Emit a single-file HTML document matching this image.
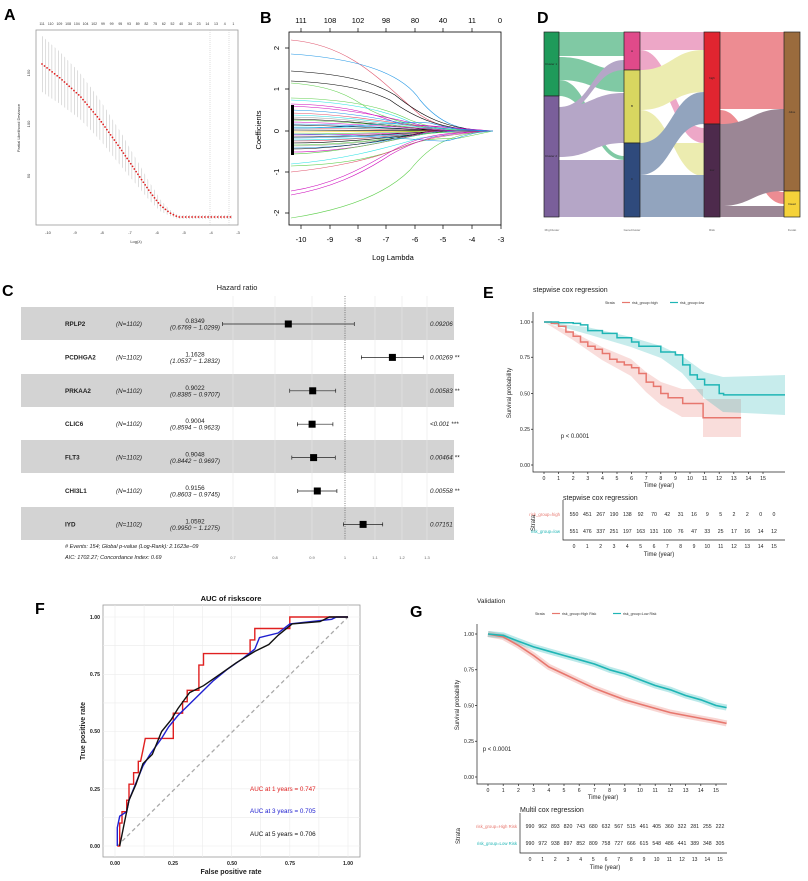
<!DOCTYPE html>
<html><head><meta charset="utf-8"><style>
html,body{margin:0;padding:0;background:#fff;}
svg{display:block;font-family:"Liberation Sans",sans-serif;}
</style></head><body>
<svg width="808" height="881" viewBox="0 0 808 881" xmlns="http://www.w3.org/2000/svg">
<defs>
<pattern id="vl" x="42" y="0" width="3.2" height="10" patternUnits="userSpaceOnUse"><line x1="0.3" y1="0" x2="0.3" y2="10" stroke="#bbb" stroke-width="0.5"/></pattern>
</defs>
<rect width="808" height="881" fill="#fff"/>
<g font-weight="bold" font-size="16" fill="#000">
<text x="4" y="20">A</text><text x="260" y="23">B</text><text x="537" y="23">D</text>
<text x="2" y="296">C</text><text x="483" y="298">E</text><text x="35" y="614">F</text><text x="410" y="617">G</text>
</g>

<!-- Panel A -->
<rect x="36" y="30" width="202" height="195" fill="none" stroke="#999" stroke-width="0.8"/>
<g font-size="3.5" fill="#333" text-anchor="middle">
<text x="42" y="25">111</text><text x="50.7" y="25">110</text><text x="59.4" y="25">109</text><text x="68.1" y="25">108</text><text x="76.8" y="25">104</text><text x="85.5" y="25">104</text><text x="94.2" y="25">102</text><text x="102.9" y="25">99</text><text x="111.6" y="25">99</text><text x="120.3" y="25">95</text><text x="129" y="25">93</text><text x="137.7" y="25">89</text><text x="146.4" y="25">82</text><text x="155.1" y="25">75</text><text x="163.8" y="25">62</text><text x="172.5" y="25">52</text><text x="181.2" y="25">40</text><text x="189.9" y="25">34</text><text x="198.6" y="25">23</text><text x="207.3" y="25">14</text><text x="216" y="25">13</text><text x="224.7" y="25">4</text><text x="233.4" y="25">1</text>
</g>
<path d="M42,36 L60,52 L80,73 L100,100 L120,131 L135,157 L150,183 L160,199 L170,210 L178,215 L232,215 L232,219 L178,219 L170,216 L160,211 L150,201 L135,183 L120,165 L100,140 L80,119 L60,104 L42,92Z" fill="url(#vl)"/>
<path d="M42,64 L60,78 L80,96 L100,120 L120,148 L135,170 L150,192 L160,205 L170,213 L178,217 L232,217" fill="none" stroke="#e02020" stroke-width="1.8" stroke-linecap="round" stroke-dasharray="0,3.2"/>
<line x1="210" y1="30" x2="210" y2="225" stroke="#bbb" stroke-width="0.5" stroke-dasharray="1,1"/>
<line x1="229" y1="30" x2="229" y2="225" stroke="#bbb" stroke-width="0.5" stroke-dasharray="1,1"/>
<g font-size="4" fill="#333" text-anchor="middle">
<text x="48" y="234">-10</text><text x="75" y="234">-9</text><text x="102" y="234">-8</text><text x="130" y="234">-7</text><text x="157" y="234">-6</text><text x="184" y="234">-5</text><text x="211" y="234">-4</text><text x="238" y="234">-3</text>
<text x="136" y="243">Log(λ)</text>
<text transform="translate(30,73) rotate(-90)">150</text>
<text transform="translate(30,124) rotate(-90)">100</text>
<text transform="translate(30,176) rotate(-90)">50</text>
<text transform="translate(20,128) rotate(-90)">Partial Likelihood Deviance</text>
</g>

<!-- Panel B -->
<g fill="none" stroke-width="0.6">
<path d="M291,40 C350,45 380,80 420,115 C440,128 460,131 493,131" stroke="#DF536B"/>
<path d="M291,54 C350,58 400,70 420,100 C440,124 460,131 493,131" stroke="#2297E6"/>
<path d="M291,71 C340,74 370,80 395,95 C420,115 445,130 493,131" stroke="#000"/>
<path d="M291,81 C340,83 370,90 390,100 C415,118 440,130 493,131" stroke="#000"/>
<path d="M291,83 C330,86 350,95 370,110 C400,125 430,130 493,131" stroke="#61D04F"/>
<path d="M291,98 C340,99 380,105 410,120 C430,128 450,131 493,131" stroke="#61D04F"/>
<path d="M291,100 C340,102 380,108 410,122 C430,129 450,131 493,131" stroke="#28E2E5"/>
<path d="M291,104 C340,105 370,112 400,124 L493,131" stroke="#CD0BBC"/>
<path d="M291,106 C340,108 380,115 420,125 L493,131" stroke="#CD0BBC"/>
<path d="M291,110 C340,111 380,118 420,127 L493,131" stroke="#2297E6"/>
<path d="M291,113 C350,114 400,124 450,131 L493,131" stroke="#DF536B"/>
<path d="M291,115 C350,116 400,125 450,131 L493,131" stroke="#28E2E5"/>
<path d="M291,117 C350,118 400,126 440,131 L493,131" stroke="#9E9E9E"/>
<path d="M291,119 C350,120 400,127 440,131 L493,131" stroke="#000"/>
<path d="M291,120 C350,121 410,128 460,131 L493,131" stroke="#61D04F"/>
<path d="M291,122 C350,123 410,128 460,131 L493,131" stroke="#CD0BBC"/>
<path d="M291,124 C350,124 400,129 440,131 L493,131" stroke="#2297E6"/>
<path d="M291,125 C350,126 410,129 450,131 L493,131" stroke="#000"/>
<path d="M291,127 C350,127 400,130 440,131 L493,131" stroke="#28E2E5"/>
<path d="M291,128 C350,128 410,130 450,131 L493,131" stroke="#DF536B"/>
<path d="M291,130 L493,131" stroke="#000"/>
<path d="M291,132 C350,132 400,131 440,131 L493,131" stroke="#F5C710"/>
<path d="M291,134 C350,134 400,132 440,131 L493,131" stroke="#61D04F"/>
<path d="M291,135 C350,135 410,133 450,131 L493,131" stroke="#CD0BBC"/>
<path d="M291,137 C350,137 400,134 440,131 L493,131" stroke="#000"/>
<path d="M291,138 C350,138 410,134 460,131 L493,131" stroke="#2297E6"/>
<path d="M291,140 C350,140 410,135 460,131 L493,131" stroke="#28E2E5"/>
<path d="M291,141 C350,141 400,135 440,131 L493,131" stroke="#DF536B"/>
<path d="M291,143 C350,143 400,136 450,131 L493,131" stroke="#000"/>
<path d="M291,145 C350,145 400,137 450,131 L493,131" stroke="#61D04F"/>
<path d="M291,146 C350,146 400,138 440,131 L493,131" stroke="#9E9E9E"/>
<path d="M291,148 C350,148 400,139 440,131 L493,131" stroke="#2297E6"/>
<path d="M291,149 C340,149 390,140 430,131 L493,131" stroke="#000"/>
<path d="M291,152 C340,152 390,142 430,131 L493,131" stroke="#CD0BBC"/>
<path d="M291,154 C340,153 390,140 430,133 L493,131" stroke="#61D04F"/>
<path d="M291,164 C340,160 380,150 420,138 L493,131" stroke="#28E2E5"/>
<path d="M291,166 C330,165 370,160 400,148 C430,135 450,140 460,138 L493,131" stroke="#61D04F"/>
<path d="M291,172 C330,168 370,160 400,148 C420,140 440,135 493,131" stroke="#DF536B"/>
<path d="M291,191 C330,185 360,170 390,152 C420,135 440,133 493,131" stroke="#CD0BBC"/>
<path d="M291,195 C330,188 360,175 390,155 C420,138 440,133 493,131" stroke="#CD0BBC"/>
<path d="M291,218 C330,212 380,200 410,170 C430,145 450,133 493,131" stroke="#61D04F"/>
<path d="M291,128 C350,129 400,120 430,123 C450,128 460,131 493,131" stroke="#2297E6"/>
<path d="M291,134 C350,134 420,140 440,141 C455,142 465,132 493,131" stroke="#2297E6"/>
</g>
<rect x="291" y="105" width="3" height="50" fill="#000"/>
<rect x="289" y="32" width="212" height="193" fill="none" stroke="#000" stroke-width="0.8"/>
<g stroke="#000" stroke-width="0.7">
<path d="M301,225v4M330,225v4M358,225v4M386,225v4M415,225v4M443,225v4M472,225v4M501,225v4M301,32v-4M330,32v-4M358,32v-4M386,32v-4M415,32v-4M443,32v-4M472,32v-4M289,48h-4M289,89h-4M289,131h-4M289,172h-4M289,213h-4"/>
</g>
<g font-size="7.5" fill="#000" text-anchor="middle">
<text x="301" y="23">111</text><text x="330" y="23">108</text><text x="358" y="23">102</text><text x="386" y="23">98</text><text x="415" y="23">80</text><text x="443" y="23">40</text><text x="472" y="23">11</text><text x="500" y="23">0</text>
<text x="301" y="242">-10</text><text x="330" y="242">-9</text><text x="358" y="242">-8</text><text x="386" y="242">-7</text><text x="415" y="242">-6</text><text x="443" y="242">-5</text><text x="472" y="242">-4</text><text x="501" y="242">-3</text>
<text x="393" y="260">Log Lambda</text>
<text transform="translate(279,48) rotate(-90)">2</text>
<text transform="translate(279,89) rotate(-90)">1</text>
<text transform="translate(279,131) rotate(-90)">0</text>
<text transform="translate(279,172) rotate(-90)">-1</text>
<text transform="translate(279,213) rotate(-90)">-2</text>
<text transform="translate(261,130) rotate(-90)">Coefficients</text>
</g>

<!-- Panel D -->
<g opacity="0.55">
<path d="M559,32 L624,32 L624,56 L559,56Z" fill="#1a9e5a"/>
<path d="M559,57 C592,57 592,70 624,70 L624,92 C592,92 592,80 559,80Z" fill="#1a9e5a"/>
<path d="M559,80 C592,80 592,156 624,156 L624,160 C592,160 592,96 559,96 L559,80Z" fill="#1a9e5a"/>
<path d="M559,107 C592,107 592,60 624,60 L624,70 C592,70 592,113 559,113Z" fill="#7a5f9a"/>
<path d="M559,96 L559,107 C592,107 592,93 624,93 L624,143 C592,143 592,157 559,157Z" fill="#7a5f9a"/>
<path d="M559,160 L624,160 L624,217 L559,217Z" fill="#7a5f9a"/>
<path d="M640,32 L704,32 L704,50 L640,50Z" fill="#e0609a"/>
<path d="M640,50 C672,50 672,128 704,128 L704,143 C672,143 672,70 640,70Z" fill="#e0609a"/>
<path d="M640,70 C672,70 672,50 704,50 L704,92 C672,92 672,110 640,110Z" fill="#dede70"/>
<path d="M640,110 C672,110 672,176 704,176 L704,143 C672,143 672,143 640,143Z" fill="#dede70"/>
<path d="M640,143 C672,143 672,92 704,92 L704,124 C672,124 672,175 640,175Z" fill="#3a5a8a"/>
<path d="M640,175 L704,175 L704,217 L640,217Z" fill="#3a5a8a"/>
<path d="M720,32 L784,32 L784,109 L720,109Z" fill="#e0303a"/>
<path d="M720,110 C752,110 752,192 784,192 L784,204 C752,204 752,124 720,124Z" fill="#e0303a"/>
<path d="M720,124 C752,124 752,109 784,109 L784,191 C752,191 752,206 720,206Z" fill="#4a2540"/>
<path d="M720,206 L784,206 L784,217 L720,217Z" fill="#4a2540"/>
</g>
<g stroke="#222" stroke-width="0.7">
<rect x="544" y="32" width="15" height="64" fill="#1f9a5a"/><rect x="544" y="96" width="15" height="121" fill="#7a5f9a"/>
<rect x="624" y="32" width="16" height="38" fill="#e04a8a"/><rect x="624" y="70" width="16" height="73" fill="#d8d660"/><rect x="624" y="143" width="16" height="74" fill="#2f4a7c"/>
<rect x="704" y="32" width="16" height="92" fill="#e02530"/><rect x="704" y="124" width="16" height="93" fill="#4d2a4c"/>
<rect x="784" y="32" width="16" height="159" fill="#9a6b3d"/><rect x="784" y="191" width="16" height="26" fill="#f5d23a"/>
</g>
<g font-size="3" fill="#222" text-anchor="middle">
<text x="551" y="65">Cluster 1</text><text x="551" y="157">Cluster 2</text>
<text x="632" y="52">A</text><text x="632" y="107">B</text><text x="632" y="180">C</text>
<text x="712" y="79">high</text><text x="712" y="171">low</text>
<text x="792" y="113">Alive</text><text x="792" y="205">Dead</text>
<text x="552" y="231" fill="#666">MrgCluster</text><text x="632" y="231" fill="#666">GeneCluster</text><text x="712" y="231" fill="#666">Risk</text><text x="792" y="231" fill="#666">Fustat</text>
</g>

<!-- Panel C -->
<text x="237" y="290" font-size="7.5" text-anchor="middle" fill="#222">Hazard ratio</text>
<g fill="#d3d3d3">
<rect x="21" y="307" width="433" height="33"/><rect x="21" y="374" width="433" height="33"/><rect x="21" y="440" width="433" height="33"/><rect x="21" y="507" width="433" height="33"/>
</g>
<g stroke="#e6e6e6" stroke-width="0.6">
<path d="M233,296V540M275,296V540M312,296V540M375,296V540M402,296V540M427,296V540"/>
</g>
<line x1="345" y1="296" x2="345" y2="540" stroke="#333" stroke-width="0.6" stroke-dasharray="1,1.3"/>
<g font-size="6.3" fill="#222">
<g font-weight="bold"><text x="65" y="326">RPLP2</text><text x="65" y="359.4">PCDHGA2</text><text x="65" y="392.8">PRKAA2</text><text x="65" y="426.2">CLIC6</text><text x="65" y="459.6">FLT3</text><text x="65" y="493">CHI3L1</text><text x="65" y="526.4">IYD</text></g>
<g font-style="italic"><text x="116" y="326">(N=1102)</text><text x="116" y="359.4">(N=1102)</text><text x="116" y="392.8">(N=1102)</text><text x="116" y="426.2">(N=1102)</text><text x="116" y="459.6">(N=1102)</text><text x="116" y="493">(N=1102)</text><text x="116" y="526.4">(N=1102)</text></g>
<g text-anchor="middle">
<text x="195" y="323">0.8349</text><text x="195" y="329.5" font-style="italic">(0.6769 − 1.0299)</text>
<text x="195" y="356.4">1.1628</text><text x="195" y="362.9" font-style="italic">(1.0537 − 1.2832)</text>
<text x="195" y="389.8">0.9022</text><text x="195" y="396.3" font-style="italic">(0.8385 − 0.9707)</text>
<text x="195" y="423.2">0.9004</text><text x="195" y="429.7" font-style="italic">(0.8594 − 0.9623)</text>
<text x="195" y="456.6">0.9048</text><text x="195" y="463.1" font-style="italic">(0.8442 − 0.9697)</text>
<text x="195" y="490">0.9156</text><text x="195" y="496.5" font-style="italic">(0.8603 − 0.9745)</text>
<text x="195" y="523.4">1.0592</text><text x="195" y="529.9" font-style="italic">(0.9950 − 1.1275)</text>
</g>
<g font-style="italic"><text x="430" y="326">0.09206</text><text x="430" y="359.4">0.00269 **</text><text x="430" y="392.8">0.00583 **</text><text x="430" y="426.2">&lt;0.001 ***</text><text x="430" y="459.6">0.00464 **</text><text x="430" y="493">0.00558 **</text><text x="430" y="526.4">0.07151</text></g>
</g>
<g stroke="#222" stroke-width="0.7" fill="none">
<path d="M222.5,324H354.3M222.5,322v4M354.3,322v4"/>
<path d="M361.4,357.4H423.3M361.4,355.4v4M423.3,355.4v4"/>
<path d="M289.7,390.8H335.7M289.7,388.8v4M335.7,388.8v4"/>
<path d="M297.4,424.2H332.9M297.4,422.2v4M332.9,422.2v4"/>
<path d="M291.8,457.6H335.3M291.8,455.6v4M335.3,455.6v4"/>
<path d="M297.7,491H336.9M297.7,489v4M336.9,489v4"/>
<path d="M343.4,524.4H382.7M343.4,522.4v4M382.7,522.4v4"/>
</g>
<g fill="#000">
<rect x="284.8" y="320.5" width="7" height="7"/><rect x="388.9" y="353.9" width="7" height="7"/><rect x="309.2" y="387.3" width="7" height="7"/><rect x="308.6" y="420.7" width="7" height="7"/><rect x="310.1" y="454.1" width="7" height="7"/><rect x="313.8" y="487.5" width="7" height="7"/><rect x="359.6" y="520.9" width="7" height="7"/>
</g>
<g font-size="5.5" font-style="italic" fill="#222">
<text x="65" y="548"># Events: 154; Global p-value (Log-Rank): 2.1623e−09</text>
<text x="65" y="559">AIC: 1702.27; Concordance Index: 0.69</text>
</g>
<g font-size="4" fill="#666" text-anchor="middle">
<text x="233" y="559">0.7</text><text x="275" y="559">0.8</text><text x="312" y="559">0.9</text><text x="345" y="559">1</text><text x="375" y="559">1.1</text><text x="402" y="559">1.2</text><text x="427" y="559">1.3</text>
</g>

<!-- Panel E -->
<text x="533" y="292" font-size="7" fill="#222">stepwise cox regression</text>
<g font-size="3.6" fill="#333">
<text x="605" y="304">Strata</text>
<line x1="622" y1="302.5" x2="630" y2="302.5" stroke="#E7776E" stroke-width="1.2"/><text x="632" y="304">risk_group=high</text>
<line x1="670" y1="302.5" x2="678" y2="302.5" stroke="#1FB5B5" stroke-width="1.2"/><text x="680" y="304">risk_group=low</text>
</g>
<path d="M544,322 L573,332 L602,347 L631,359 L646,372 L661,382 L682,389 L703,389 L703,399 L741,399 L741,437 L703,437 L703,417 L682,417 L661,405 L646,392 L631,376 L602,360 L573,340 L544,322Z" fill="#E7776E" opacity="0.25"/>
<path d="M544,322 L587,327 L631,337 L661,346 L682,356 L704,372 L723,377 L785,375 L785,415 L723,412 L704,398 L682,373 L661,358 L631,347 L587,334 L544,322Z" fill="#1FB5B5" opacity="0.25"/>
<path d="M544,322 H551.3 V323.4 H558.6 V326.3 H565.9 V332 H573.2 V336.3 H580.5 V342 H587.8 V346.3 H595.1 V349.2 H602.4 V353.5 H609.7 V359.2 H617 V362 H624.3 V364.9 H631.6 V367.8 H638.9 V373.5 H646.2 V382.1 H653.5 V386.4 H660.8 V393.5 H668.1 V397.8 H682.7 V403.5 H703.1 V417.8 H741.1" fill="none" stroke="#E7776E" stroke-width="1.5"/>
<path d="M544,322 H558.6 V322.7 H573.2 V323.4 H580.5 V324.9 H587.8 V330.6 H602.4 V333.4 H617 V337.7 H631.6 V342 H638.9 V346.3 H660.8 V352 H675.4 V354.9 H682.7 V364.9 H690 V374.9 H697.3 V379.2 H704.6 V384.9 H719.2 V393.5 H723.6 V394.9 H785" fill="none" stroke="#1FB5B5" stroke-width="1.5"/>
<g stroke="#222" stroke-width="0.7" fill="none">
<path d="M533,312V472H785"/>
<path d="M531,322h2M531,357.25h2M531,393.5h2M531,429.25h2M531,465h2"/>
<path d="M544,472v2M558.6,472v2M573.2,472v2M587.8,472v2M602.4,472v2M617,472v2M631.6,472v2M646.2,472v2M660.8,472v2M675.4,472v2M690,472v2M704.6,472v2M719.2,472v2M733.8,472v2M748.4,472v2M763,472v2"/>
<path d="M563,500V540H785"/>
</g>
<g font-size="5.2" fill="#222" text-anchor="end">
<text x="530" y="324">1.00</text><text x="530" y="359.2">0.75</text><text x="530" y="395.5">0.50</text><text x="530" y="431.2">0.25</text><text x="530" y="467">0.00</text>
</g>
<g font-size="5.2" fill="#222" text-anchor="middle">
<text x="544" y="480">0</text><text x="558.6" y="480">1</text><text x="573.2" y="480">2</text><text x="587.8" y="480">3</text><text x="602.4" y="480">4</text><text x="617" y="480">5</text><text x="631.6" y="480">6</text><text x="646.2" y="480">7</text><text x="660.8" y="480">8</text><text x="675.4" y="480">9</text><text x="690" y="480">10</text><text x="704.6" y="480">11</text><text x="719.2" y="480">12</text><text x="733.8" y="480">13</text><text x="748.4" y="480">14</text><text x="763" y="480">15</text>
<text x="659" y="487" font-size="6">Time (year)</text>
<text transform="translate(511,393) rotate(-90)" font-size="6">Survival probability</text>
<text x="575" y="438" font-size="6">p &lt; 0.0001</text>
</g>
<text x="563" y="500" font-size="7" fill="#222">stepwise cox regression</text>
<g font-size="4.3" text-anchor="end"><text x="560" y="516" fill="#E7776E">risk_group=high</text><text x="560" y="533" fill="#1FB5B5">risk_group=low</text></g>
<g font-size="5.2" fill="#222" text-anchor="middle">
<text x="574" y="516">550</text><text x="587.3" y="516">451</text><text x="600.7" y="516">267</text><text x="614" y="516">190</text><text x="627.3" y="516">138</text><text x="640.7" y="516">92</text><text x="654" y="516">70</text><text x="667.3" y="516">42</text><text x="680.7" y="516">31</text><text x="694" y="516">16</text><text x="707.3" y="516">9</text><text x="720.7" y="516">5</text><text x="734" y="516">2</text><text x="747.3" y="516">2</text><text x="760.7" y="516">0</text><text x="774" y="516">0</text>
<text x="574" y="533">551</text><text x="587.3" y="533">476</text><text x="600.7" y="533">337</text><text x="614" y="533">251</text><text x="627.3" y="533">197</text><text x="640.7" y="533">163</text><text x="654" y="533">131</text><text x="667.3" y="533">100</text><text x="680.7" y="533">76</text><text x="694" y="533">47</text><text x="707.3" y="533">33</text><text x="720.7" y="533">25</text><text x="734" y="533">17</text><text x="747.3" y="533">16</text><text x="760.7" y="533">14</text><text x="774" y="533">12</text>
<g font-size="5"><text x="574" y="548">0</text><text x="587.3" y="548">1</text><text x="600.7" y="548">2</text><text x="614" y="548">3</text><text x="627.3" y="548">4</text><text x="640.7" y="548">5</text><text x="654" y="548">6</text><text x="667.3" y="548">7</text><text x="680.7" y="548">8</text><text x="694" y="548">9</text><text x="707.3" y="548">10</text><text x="720.7" y="548">11</text><text x="734" y="548">12</text><text x="747.3" y="548">13</text><text x="760.7" y="548">14</text><text x="774" y="548">15</text></g>
<text x="659" y="556" font-size="6">Time (year)</text>
<text transform="translate(535,523) rotate(-90)" font-size="6">Strata</text>
</g>

<!-- Panel F -->
<text x="231" y="601" font-size="7.5" font-weight="bold" text-anchor="middle" fill="#111">AUC of riskscore</text>
<rect x="103" y="605" width="257" height="252" fill="#fff" stroke="#999" stroke-width="0.8"/>
<g stroke="#ececec" stroke-width="0.6">
<path d="M115,605V857M144.1,605V857M173.3,605V857M202.4,605V857M231.5,605V857M260.6,605V857M289.8,605V857M318.9,605V857M348,605V857"/>
<path d="M103,846H360M103,817.4H360M103,788.8H360M103,760.1H360M103,731.5H360M103,702.9H360M103,674.3H360M103,645.6H360M103,617H360"/>
</g>
<line x1="117.3" y1="846" x2="348" y2="617" stroke="#aaa" stroke-width="1.3" stroke-dasharray="4,3"/>
<path d="M117.3,846 L119.7,846 L119.7,823.1 L122,823.1 L122,811.7 L126.7,811.7 L126.7,800.2 L129,800.2 L129,784.2 L133.6,784.2 L133.6,772.7 L138.3,772.7 L138.3,761.3 L140.6,761.3 L143,749.8 L145.3,738.4 L173.3,738.4 L173.3,713.2 L182.6,713.2 L182.6,701.7 L187.2,701.7 L187.2,690.3 L198.9,690.3 L198.9,665.1 L203.5,665.1 L203.5,653.6 L250.1,653.6 L250.1,639.9 L254.8,639.9 L254.8,628.5 L289.8,628.5 L289.8,617 L348,617" fill="none" stroke="#e02020" stroke-width="1.4"/>
<path d="M117.3,846 L117.3,827.7 L119.7,816.2 L126.7,811.7 L129,800.2 L133.6,788.8 L138.3,777.3 L143,765.9 L150,754.4 L161.6,738.4 L168.6,726.9 L177.9,715.5 L184.9,708.6 L191.9,701.7 L201.2,692.6 L212.9,681.1 L226.8,669.7 L243.2,658.2 L254.8,649.1 L259.5,637.6 L278.1,633 L289.8,623.9 L331.7,619.3 L336.4,617 L348,617" fill="none" stroke="#2020d0" stroke-width="1.4"/>
<path d="M119.7,846 L122,834.6 L124.3,823.1 L129,800.2 L136,784.2 L143,763.6 L152.3,754.4 L161.6,731.5 L170.9,720.1 L177.9,708.6 L189.6,692.6 L203.5,685.7 L219.9,674.3 L236.2,662.8 L254.8,651.4 L268.8,644.5 L278.1,635.3 L292.1,623.9 L320,621.6 L329.4,617 L348,617" fill="none" stroke="#111" stroke-width="1.4"/>
<g font-size="5.2" fill="#222" text-anchor="end" font-weight="bold">
<text x="100" y="619">1.00</text><text x="100" y="676">0.75</text><text x="100" y="733">0.50</text><text x="100" y="791">0.25</text><text x="100" y="848">0.00</text>
</g>
<g font-size="5.2" fill="#222" text-anchor="middle" font-weight="bold">
<text x="115" y="865">0.00</text><text x="173" y="865">0.25</text><text x="232" y="865">0.50</text><text x="290" y="865">0.75</text><text x="348" y="865">1.00</text>
<text x="231" y="874" font-size="7">False positive rate</text>
<text transform="translate(85,731) rotate(-90)" font-size="7">True positive rate</text>
</g>
<g font-size="6.3">
<text x="250" y="791" fill="#e02020">AUC at 1 years = 0.747</text>
<text x="250" y="813" fill="#2020d0">AUC at 3 years = 0.705</text>
<text x="250" y="836" fill="#111">AUC at 5 years = 0.706</text>
</g>

<!-- Panel G -->
<text x="477" y="603" font-size="6.5" fill="#222">Validation</text>
<g font-size="3.6" fill="#333">
<text x="535" y="615">Strata</text>
<line x1="552" y1="613.5" x2="560" y2="613.5" stroke="#E7776E" stroke-width="1.2"/><text x="562" y="615">risk_group=High Risk</text>
<line x1="613" y1="613.5" x2="621" y2="613.5" stroke="#1FB5B5" stroke-width="1.2"/><text x="623" y="615">risk_group=Low Risk</text>
</g>
<g fill="none" stroke-linejoin="round">
<path d="M488,634 L503.2,636.9 L518.4,645.4 L533.6,655.5 L548.8,666.9 L564,674 L579.2,681.2 L594.4,688.3 L609.6,694.1 L624.8,699.8 L640,704.1 L655.2,708.4 L670.4,712.6 L685.6,715.5 L700.8,718.4 L716,721.2 L726.6,723.4" stroke="#E7776E" stroke-opacity="0.3" stroke-width="6"/>
<path d="M488,634 L503.2,635.4 L518.4,641.2 L533.6,646.9 L548.8,651.2 L564,655.5 L579.2,659.7 L594.4,664 L609.6,669.8 L624.8,674 L640,679.8 L655.2,685.5 L670.4,689.8 L685.6,695.5 L700.8,699.8 L716,705.5 L726.6,707.6" stroke="#1FB5B5" stroke-opacity="0.3" stroke-width="6"/>
<path d="M488,634 L503.2,636.9 L518.4,645.4 L533.6,655.5 L548.8,666.9 L564,674 L579.2,681.2 L594.4,688.3 L609.6,694.1 L624.8,699.8 L640,704.1 L655.2,708.4 L670.4,712.6 L685.6,715.5 L700.8,718.4 L716,721.2 L726.6,723.4" stroke="#E7776E" stroke-width="1.6"/>
<path d="M488,634 L503.2,635.4 L518.4,641.2 L533.6,646.9 L548.8,651.2 L564,655.5 L579.2,659.7 L594.4,664 L609.6,669.8 L624.8,674 L640,679.8 L655.2,685.5 L670.4,689.8 L685.6,695.5 L700.8,699.8 L716,705.5 L726.6,707.6" stroke="#1FB5B5" stroke-width="1.6"/>
</g>
<g stroke="#222" stroke-width="0.7" fill="none">
<path d="M477,624V784H727"/>
<path d="M475,634h2M475,669.75h2M475,705.5h2M475,741.25h2M475,777h2"/>
<path d="M488,784v2M503.2,784v2M518.4,784v2M533.6,784v2M548.8,784v2M564,784v2M579.2,784v2M594.4,784v2M609.6,784v2M624.8,784v2M640,784v2M655.2,784v2M670.4,784v2M685.6,784v2M700.8,784v2M716,784v2"/>
<path d="M520,813V853H727"/>
</g>
<g font-size="5.2" fill="#222" text-anchor="end">
<text x="474" y="636">1.00</text><text x="474" y="671.7">0.75</text><text x="474" y="707.5">0.50</text><text x="474" y="743.2">0.25</text><text x="474" y="779">0.00</text>
</g>
<g font-size="5.2" fill="#222" text-anchor="middle">
<text x="488" y="792">0</text><text x="503.2" y="792">1</text><text x="518.4" y="792">2</text><text x="533.6" y="792">3</text><text x="548.8" y="792">4</text><text x="564" y="792">5</text><text x="579.2" y="792">6</text><text x="594.4" y="792">7</text><text x="609.6" y="792">8</text><text x="624.8" y="792">9</text><text x="640" y="792">10</text><text x="655.2" y="792">11</text><text x="670.4" y="792">12</text><text x="685.6" y="792">13</text><text x="700.8" y="792">14</text><text x="716" y="792">15</text>
<text x="603" y="799" font-size="6">Time (year)</text>
<text transform="translate(459,705) rotate(-90)" font-size="6">Survival probability</text>
<text x="497" y="751" font-size="6">p &lt; 0.0001</text>
</g>
<text x="520" y="812" font-size="7" fill="#222">Multil cox regression</text>
<g font-size="4.3" text-anchor="end"><text x="517" y="828" fill="#E7776E">risk_group=High Risk</text><text x="517" y="845" fill="#1FB5B5">risk_group=Low Risk</text></g>
<g font-size="5.2" fill="#222" text-anchor="middle">
<text x="530" y="828">990</text><text x="542.7" y="828">962</text><text x="555.3" y="828">893</text><text x="568" y="828">820</text><text x="580.7" y="828">743</text><text x="593.3" y="828">680</text><text x="606" y="828">632</text><text x="618.7" y="828">567</text><text x="631.3" y="828">515</text><text x="644" y="828">461</text><text x="656.7" y="828">405</text><text x="669.3" y="828">360</text><text x="682" y="828">322</text><text x="694.7" y="828">281</text><text x="707.3" y="828">255</text><text x="720" y="828">222</text>
<text x="530" y="845">990</text><text x="542.7" y="845">972</text><text x="555.3" y="845">938</text><text x="568" y="845">897</text><text x="580.7" y="845">852</text><text x="593.3" y="845">809</text><text x="606" y="845">758</text><text x="618.7" y="845">727</text><text x="631.3" y="845">666</text><text x="644" y="845">615</text><text x="656.7" y="845">548</text><text x="669.3" y="845">486</text><text x="682" y="845">441</text><text x="694.7" y="845">389</text><text x="707.3" y="845">348</text><text x="720" y="845">305</text>
<g font-size="5"><text x="530" y="861">0</text><text x="542.7" y="861">1</text><text x="555.3" y="861">2</text><text x="568" y="861">3</text><text x="580.7" y="861">4</text><text x="593.3" y="861">5</text><text x="606" y="861">6</text><text x="618.7" y="861">7</text><text x="631.3" y="861">8</text><text x="644" y="861">9</text><text x="656.7" y="861">10</text><text x="669.3" y="861">11</text><text x="682" y="861">12</text><text x="694.7" y="861">13</text><text x="707.3" y="861">14</text><text x="720" y="861">15</text></g>
<text x="605" y="869" font-size="6">Time (year)</text>
<text transform="translate(460,836) rotate(-90)" font-size="6">Strata</text>
</g>
</svg>
</body></html>
